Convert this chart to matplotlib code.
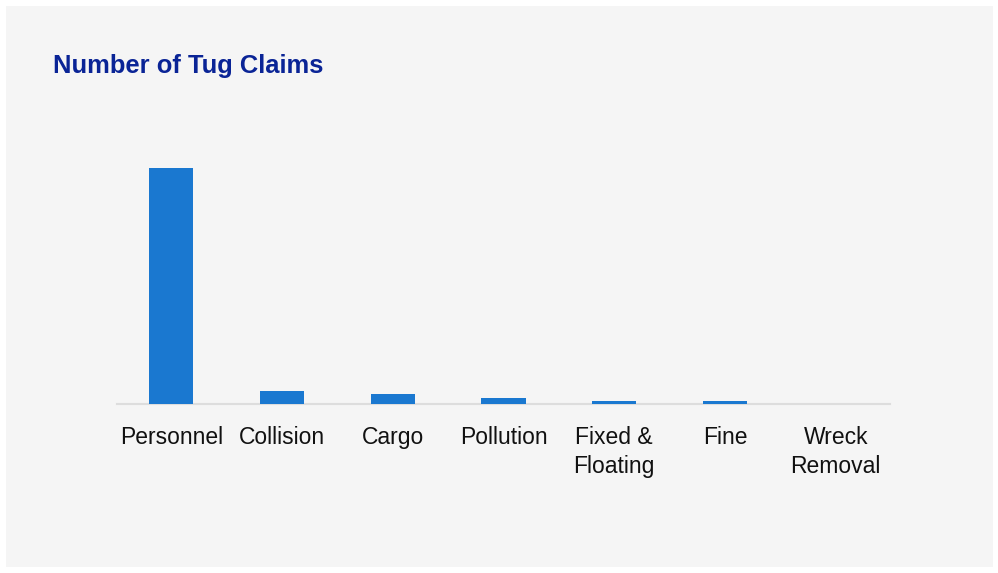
import matplotlib.pyplot as plt

categories = ["Personnel", "Collision", "Cargo", "Pollution", "Fixed &\nFloating", "Fine", "Wreck\nRemoval"]
claims = [236, 13, 10, 6, 3, 3, 0]

plt.rcParams['font.family'] = ['Liberation Sans', 'DejaVu Sans']

fig = plt.figure(figsize=(9.98, 5.73), dpi=100)
fig.patch.set_facecolor("white")

# grey card behind the chart
bg = fig.add_axes([6 / 998, 1 - 567 / 573, 987 / 998, 561 / 573], zorder=-1)
bg.set_facecolor("#f5f5f5")
bg.set_xticks([])
bg.set_yticks([])
for s in bg.spines.values():
    s.set_visible(False)

ax = fig.add_axes([117 / 998, 1 - 404 / 573, 773 / 998, 294 / 573], zorder=1)
ax.set_facecolor("none")
ax.bar(range(len(categories)), claims, width=0.4, color="#1a78d0", zorder=3)
ax.set_xlim(-0.49, 6.49)
ax.set_ylim(0, 294)
ax.set_xticks(range(len(categories)))
ax.set_xticklabels(categories, fontsize=16.5, color="#111111", linespacing=1.35)
ax.tick_params(axis="x", length=0, pad=15.5)
ax.set_yticks([])
for s in ["top", "right", "left"]:
    ax.spines[s].set_visible(False)
ax.spines["bottom"].set_color("#dddddd")
ax.spines["bottom"].set_linewidth(1.5)

fig.text(53 / 998, 1 - 73 / 573, "Number of Tug Claims", fontsize=18.4, fontweight="bold",
         color="#0a2496", ha="left", va="baseline")

fig.savefig("out.png", dpi=100)
